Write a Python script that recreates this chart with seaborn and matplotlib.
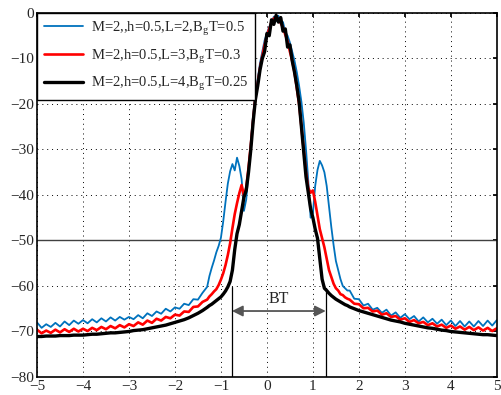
import numpy as np
import pandas as pd
import matplotlib
matplotlib.use("Agg")
import matplotlib.pyplot as plt
import seaborn as sns

# frequency grid (normalised), coarse in the tails, finer around the main lobe
x_left = np.round(np.linspace(-5.0, -1.3, 38), 2)
x_mid = np.round(np.linspace(-1.25, 1.75, 61), 2)
x_right = np.round(np.linspace(1.8, 5.0, 33), 2)

# PSD (dB)
blue_left = [-68.0, -69.2, -68.4, -69.0, -68.1, -68.9, -67.8, -68.6, -67.6, -68.3,
             -67.5, -68.2, -67.3, -68.0, -67.1, -67.8, -66.9, -67.6, -66.8, -67.4,
             -66.8, -67.3, -66.4, -67.1, -66.0, -66.6, -65.6, -66.1, -65.0, -65.6,
             -64.7, -65.0, -63.9, -64.2, -62.9, -63.0, -61.5, -60.2]
blue_mid = [-57.8, -56.0, -54.4, -52.6, -51.2, -49.4, -45.8, -41.5, -37.5, -34.8,
            -33.2, -34.6, -31.8, -33.6, -36.5, -43.5, -41.0, -35.0, -28.5, -22.5,
            -18.0, -14.5, -11.0, -8.5, -6.0, -4.5, -3.0, -2.5, -0.8, -1.8,
            -0.6, -2.4, -2.0, -4.2, -5.0, -6.5, -8.5, -10.5, -13.0, -16.0,
            -19.5, -24.0, -30.0, -37.0, -45.0, -44.0, -38.0, -34.5, -32.5, -33.5,
            -35.0, -38.0, -42.5, -47.0, -51.0, -54.5, -56.5, -58.5, -60.0, -60.5,
            -61.0]
blue_right = [-61.0, -62.8, -62.9, -64.3, -63.9, -65.2, -64.8, -65.9, -65.2, -66.5,
              -65.8, -67.0, -66.2, -67.3, -66.6, -67.8, -66.9, -68.0, -67.2, -68.3,
              -67.4, -68.6, -67.6, -68.8, -67.7, -68.9, -67.8, -68.9, -67.7, -68.8,
              -67.6, -68.7, -67.5]

red_left = [-69.6, -70.4, -69.8, -70.3, -69.6, -70.2, -69.5, -70.1, -69.4, -70.0,
            -69.4, -69.9, -69.2, -69.7, -69.0, -69.5, -68.8, -69.3, -68.6, -69.1,
            -68.4, -68.8, -68.0, -68.5, -67.6, -68.1, -67.2, -67.6, -66.8, -67.1,
            -66.3, -66.5, -65.6, -65.7, -64.6, -64.5, -63.5, -63.0]
red_mid = [-62.3, -61.8, -61.2, -60.7, -59.8, -58.6, -57.2, -55.4, -53.2, -50.6,
           -47.3, -44.2, -41.8, -39.6, -37.8, -40.2, -38.4, -34.0, -29.0, -23.5,
           -18.5, -15.5, -12.0, -9.5, -7.0, -5.0, -3.5, -2.0, -1.2, -0.8,
           -1.5, -2.2, -3.2, -4.8, -6.2, -8.5, -10.5, -13.0, -16.5, -20.0,
           -25.0, -30.0, -35.0, -38.5, -39.5, -39.0, -41.5, -44.5, -47.5, -49.5,
           -51.5, -54.0, -56.5, -58.0, -59.5, -60.5, -61.0, -61.8, -62.0, -62.5,
           -62.8]
red_right = [-63.0, -63.9, -64.0, -64.9, -64.8, -65.6, -65.4, -66.3, -66.0, -66.8,
             -66.6, -67.4, -67.1, -67.9, -67.5, -68.2, -67.9, -68.6, -68.2, -68.9,
             -68.5, -69.2, -68.7, -69.4, -68.9, -69.6, -69.0, -69.7, -69.1, -69.8,
             -69.2, -69.9, -69.3]

black_left = [-71.1, -71.1, -71.0, -71.0, -71.0, -70.9, -70.9, -70.9, -70.8, -70.8,
              -70.8, -70.7, -70.6, -70.6, -70.5, -70.4, -70.3, -70.3, -70.2, -70.1,
              -70.0, -69.8, -69.7, -69.6, -69.4, -69.2, -69.0, -68.8, -68.6, -68.3,
              -68.0, -67.7, -67.4, -67.0, -66.5, -66.0, -65.4, -64.7]
black_mid = [-64.3, -64.0, -63.6, -63.2, -62.8, -62.4, -61.8, -61.1, -60.2, -59.0,
             -56.5, -52.0, -48.5, -46.5, -43.5, -40.5, -39.0, -35.0, -30.0, -24.0,
             -19.0, -16.0, -12.5, -10.0, -8.5, -4.5, -5.0, -1.5, -2.5, -0.5,
             -2.0, -1.0, -4.0, -3.5, -7.5, -7.0, -10.5, -13.0, -16.0, -19.5,
             -25.0, -30.5, -36.0, -39.5, -43.0, -45.0, -47.5, -49.5, -54.0, -58.5,
             -60.5, -61.0, -61.6, -62.1, -62.5, -62.9, -63.2, -63.5, -63.8, -64.1,
             -64.3]
black_right = [-64.6, -65.0, -65.4, -65.7, -66.0, -66.3, -66.6, -66.9, -67.2, -67.5,
               -67.7, -67.9, -68.2, -68.4, -68.6, -68.8, -69.0, -69.2, -69.3, -69.5,
               -69.7, -69.8, -70.0, -70.1, -70.2, -70.3, -70.4, -70.5, -70.6, -70.7,
               -70.7, -70.8, -70.9]

labels = ["M=2,,h=0.5,L=2,B$_\\mathregular{g}$T=0.5",
          "M=2,h=0.5,L=3,B$_\\mathregular{g}$T=0.3",
          "M=2,h=0.5,L=4,B$_\\mathregular{g}$T=0.25"]
colors = ["#0072BD", "#FF0000", "#000000"]
widths = [1.3, 1.9, 2.4]

bt_edges = [-0.76, 1.28]
bt_tops = [-60.2, -60.5]
ref_level = -50
arrow_level = -65.5

sns.set_theme(style="white")
plt.rcParams["font.family"] = ["Liberation Serif", "DejaVu Serif"]
plt.rcParams["mathtext.fontset"] = "custom"
plt.rcParams["mathtext.rm"] = "Liberation Serif"
plt.rcParams["axes.unicode_minus"] = True

x_all = np.concatenate([x_left, x_mid, x_right])
series = [blue_left + blue_mid + blue_right,
          red_left + red_mid + red_right,
          black_left + black_mid + black_right]

fig = plt.figure(figsize=(5.02, 3.95), dpi=100)
ax = fig.add_axes([0.0737, 0.0456, 0.916, 0.9215])

for y, lab, c, lw in zip(series, labels, colors, widths):
    sns.lineplot(x=x_all, y=y, ax=ax, color=c, linewidth=lw, label=lab,
                 estimator=None, sort=False)

ax.axhline(ref_level, color="#404040", linewidth=1.0, zorder=1)
for xe, top in zip(bt_edges, bt_tops):
    ax.plot([xe, xe], [-80, top], color="black", linewidth=0.9)
ax.annotate("", xy=(bt_edges[0], arrow_level), xytext=(bt_edges[1], arrow_level),
            arrowprops=dict(arrowstyle="<|-|>", color="#555555", lw=1.3,
                            mutation_scale=16, shrinkA=0, shrinkB=0))
ax.text(sum(bt_edges) / 2, -62.8, "BT", ha="center", va="center", fontsize=11.5)

ax.set_xlim(-5, 5)
ax.set_ylim(-80, 0)
ax.set_xticks(range(-5, 6))
ax.set_yticks(range(-80, 1, 10))
ax.grid(True, color="black", linestyle=(0, (1, 4)), linewidth=0.7)
ax.tick_params(direction="in", length=3, labelsize=11, top=True, right=True,
               color="black", pad=2)
for s in ax.spines.values():
    s.set_color("black")
    s.set_linewidth(1.2)
ax.set_xlabel("")
ax.set_ylabel("")

leg = ax.legend(loc="upper left", bbox_to_anchor=(0, 1), borderaxespad=0,
                fancybox=False, edgecolor="black", framealpha=1, fontsize=10.5,
                handlelength=2.7, handletextpad=0.55, labelspacing=0.62,
                borderpad=0.45)
leg.get_frame().set_linewidth(1.0)

fig.savefig("out.png", dpi=100)
